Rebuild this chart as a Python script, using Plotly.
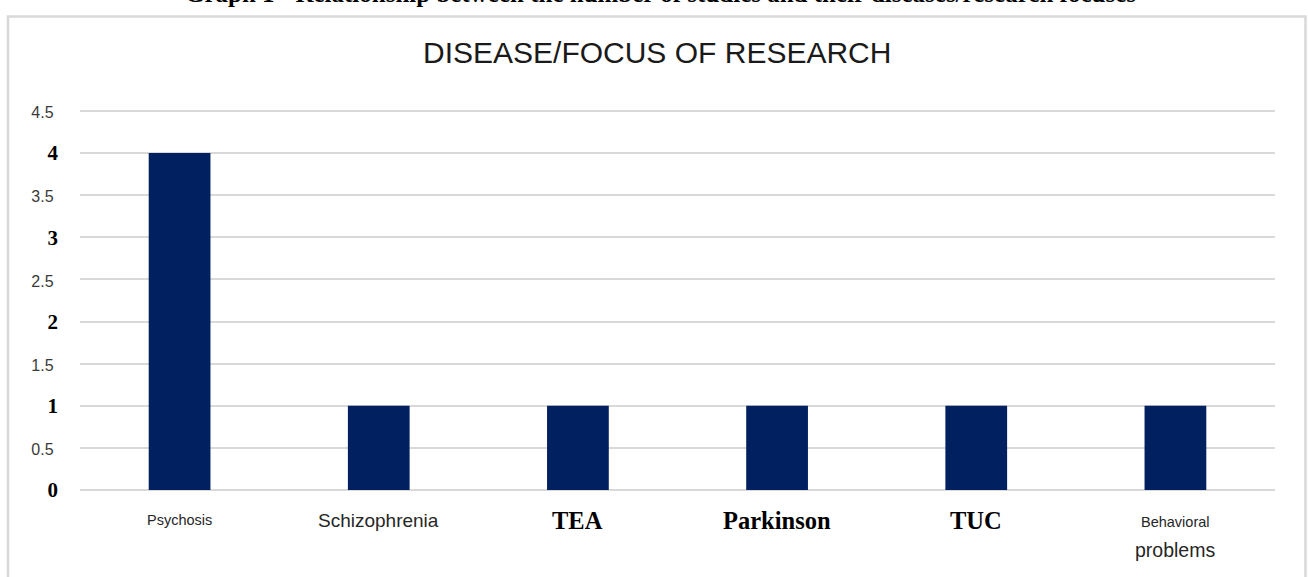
import plotly.graph_objects as go

# Number of studies per disease / research focus
categories = ["Psychosis", "Schizophrenia", "TEA", "Parkinson", "TUC", "Behavioral problems"]
studies = [4, 1, 1, 1, 1, 1]

# y-axis ticks: whole numbers in bold serif, half steps in small sans
y_ticks = [0, 0.5, 1, 1.5, 2, 2.5, 3, 3.5, 4, 4.5]
y_labels = ["0", "0.5", "1", "1.5", "2", "2.5", "3", "3.5", "4", "4.5"]

title_text = "DISEASE/FOCUS OF RESEARCH"
caption_text = "Graph 1 - Relationship between the number of studies and their diseases/research focuses"

W, H = 1308, 577
ML, MR, MT, MB = 80, 33, 108, 87
PW, PH = W - ML - MR, H - MT - MB
Y_TOP = PH / 84.25  # keeps 84.25 px per study, with headroom for the 4.5 gridline

SANS = "Liberation Sans, Arial, sans-serif"
SERIF = "Liberation Serif, Times New Roman, serif"


def px_x(px):
    return (px - ML) / PW


def px_y(py):
    return (H - MB - py) / PH


def y_tick_text(v, lab):
    if float(v).is_integer():
        return "<b>%s</b>" % lab
    return ("<span style='font-family:%s;font-size:16px;font-weight:normal;fill:#3a3a3a'>%s&nbsp;</span>"
            % (SANS, lab))


fig = go.Figure(
    go.Bar(
        x=categories,
        y=studies,
        marker=dict(color="#002060", line=dict(width=0)),
        width=0.31,
        hoverinfo="skip",
    )
)

fig.update_layout(
    width=W,
    height=H,
    margin=dict(l=ML, r=MR, t=MT, b=MB, pad=0),
    paper_bgcolor="white",
    plot_bgcolor="white",
    showlegend=False,
    xaxis=dict(
        type="category",
        categoryarray=categories,
        showticklabels=False,
        showgrid=False,
        zeroline=False,
        showline=False,
        ticks="",
        range=[-0.5, len(categories) - 0.5],
    ),
    yaxis=dict(
        range=[0, Y_TOP],
        tickmode="array",
        tickvals=y_ticks,
        ticktext=[y_tick_text(v, l) for v, l in zip(y_ticks, y_labels)],
        tickfont=dict(family=SERIF, size=21, color="#000000"),
        showgrid=True,
        gridcolor="#d9d9d9",
        gridwidth=2,
        zeroline=True,
        zerolinecolor="#d9d9d9",
        zerolinewidth=2,
        showline=False,
        ticks="",
        ticklabelstandoff=21,
    ),
)

# Category labels, each in its own typeface
label_styles = {
    "Psychosis": [("Psychosis", SANS, 14.5, "#262626", 526)],
    "Schizophrenia": [("Schizophrenia", SANS, 19, "#262626", 528)],
    "TEA": [("<b>TEA</b>", SERIF, 24.5, "#000000", 530)],
    "Parkinson": [("<b>Parkinson</b>", SERIF, 24.5, "#000000", 530)],
    "TUC": [("<b>TUC</b>", SERIF, 24.5, "#000000", 530)],
    "Behavioral problems": [
        ("Behavioral", SANS, 14.5, "#262626", 528),
        ("problems", SANS, 19.5, "#262626", 558),
    ],
}

annotations = []
for cat in categories:
    for text, fam, size, col, baseline in label_styles[cat]:
        annotations.append(dict(
            x=cat, xref="x",
            y=px_y(baseline + 0.25 * size), yref="paper",
            yanchor="bottom", xanchor="center",
            text=text, showarrow=False,
            font=dict(family=fam, size=size, color=col),
        ))

# Chart title
annotations.append(dict(
    x=px_x(657), xref="paper", y=px_y(63 + 0.25 * 30), yref="paper",
    xanchor="center", yanchor="bottom", showarrow=False,
    text=title_text, font=dict(family=SANS, size=30, color="#1a1a1a"),
))

# Figure caption running off the top edge
annotations.append(dict(
    x=px_x(660), xref="paper", y=px_y(3 + 0.25 * 25), yref="paper",
    xanchor="center", yanchor="bottom", showarrow=False,
    text="<b>%s</b>" % caption_text, font=dict(family=SERIF, size=25, color="#000000"),
))

fig.update_layout(annotations=annotations)

# Light frame around the chart
fig.add_shape(
    type="rect", xref="paper", yref="paper",
    x0=px_x(8), x1=px_x(1305.5), y0=px_y(620), y1=px_y(16.5),
    line=dict(color="#d9d9d9", width=2.5),
    fillcolor="rgba(0,0,0,0)", layer="below",
)

fig.write_html("out.html")
